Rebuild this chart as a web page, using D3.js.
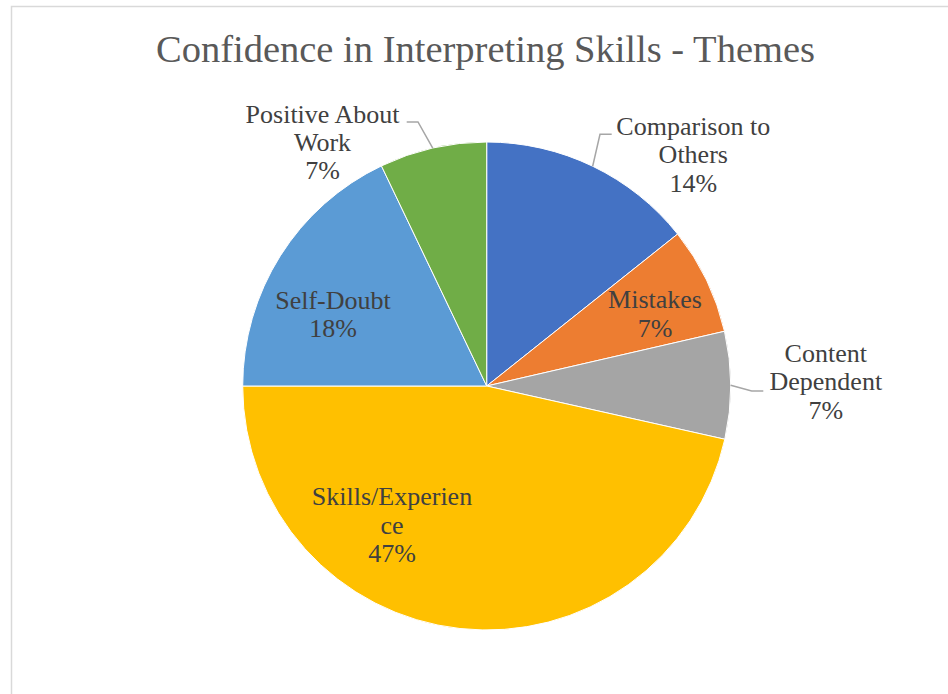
<!DOCTYPE html>
<html>
<head>
<meta charset="utf-8">
<script src="https://cdn.jsdelivr.net/npm/d3@7"></script>
<style>
  html, body { margin: 0; padding: 0; background: #fff; }
  svg { display: block; }
  .serif { font-family: "Liberation Serif", "Times New Roman", Times, "DejaVu Serif", serif; }
</style>
</head>
<body>
<div id="chart"></div>
<script>
// Theme shares (percent of responses)
const themes = ["Comparison to Others", "Mistakes", "Content Dependent", "Skills/Experience", "Self-Doubt", "Positive About Work"];
const shares = [14.3, 7.1, 7.1, 46.5, 17.9, 7.1];
// Label text, broken into lines as displayed
const labelLines = [
  ["Comparison to", "Others"],
  ["Mistakes"],
  ["Content", "Dependent"],
  ["Skills/Experien", "ce"],
  ["Self-Doubt"],
  ["Positive About", "Work"]
];
const colors = ["#4472C4", "#ED7D31", "#A5A5A5", "#FFC000", "#5B9BD5", "#70AD47"];

// Label block placement relative to the pie centre, and leader elbows for outside labels
const labelOffsets = [[206.6, -222.7], [168.3, -63.5], [339.1, 4.3], [-94.7, 147.6], [-153.7, -62.8], [-164.2, -235.1]];
const leaders = [
  { elbow: [113.3, -251.7], end: [125, -251.7] },
  null,
  { elbow: [265, 5], end: [276.6, 5] },
  null,
  null,
  { elbow: [-68.7, -264], end: [-80, -264] }
];

const W = 948, H = 694;
const cx = 486.7, cy = 386, R = 244;
const lineH = 28.4;

const svg = d3.select("#chart").append("svg")
  .attr("width", W).attr("height", H);

// Chart area frame
svg.append("rect")
  .attr("x", 11.5).attr("y", 6.5)
  .attr("width", 1000).attr("height", 1000)
  .attr("fill", "none")
  .attr("stroke", "#d9d9d9")
  .attr("stroke-width", 1.5);

svg.append("text")
  .attr("class", "serif")
  .attr("x", 485.5).attr("y", 61.5)
  .attr("text-anchor", "middle")
  .attr("font-size", 38.5)
  .attr("fill", "#595959")
  .text("Confidence in Interpreting Skills - Themes");

const data = themes.map((t, i) => ({ theme: t, value: shares[i], i }));
const pie = d3.pie().value(d => d.value).sort(null);
const arcs = pie(data);
const arc = d3.arc().innerRadius(0).outerRadius(R);

const g = svg.append("g").attr("transform", `translate(${cx},${cy})`);

g.selectAll("path.slice")
  .data(arcs)
  .join("path")
  .attr("class", "slice")
  .attr("d", arc)
  .attr("fill", d => colors[d.data.i])
  .attr("stroke", "#fff")
  .attr("stroke-width", 1);

// Leader lines from slice edge to outside labels
arcs.forEach(a => {
  const L = leaders[a.data.i];
  if (!L) return;
  const mid = (a.startAngle + a.endAngle) / 2;
  const p0 = [R * Math.sin(mid), -R * Math.cos(mid)];
  g.append("polyline")
    .attr("points", [p0, L.elbow, L.end].map(p => p.join(",")).join(" "))
    .attr("fill", "none")
    .attr("stroke", "#a6a6a6")
    .attr("stroke-width", 1.5);
});

// Data labels: category lines plus rounded percentage
arcs.forEach(a => {
  const i = a.data.i;
  const lines = labelLines[i].concat([Math.round(a.data.value) + "%"]);
  const [ox, oy] = labelOffsets[i];
  const t = g.append("text")
    .attr("class", "serif")
    .attr("text-anchor", "middle")
    .attr("font-size", 26)
    .attr("fill", "#404040");
  lines.forEach((ln, k) => {
    t.append("tspan")
      .attr("x", ox)
      .attr("y", oy + (k - (lines.length - 1) / 2) * lineH)
      .text(ln);
  });
});
</script>
</body>
</html>
